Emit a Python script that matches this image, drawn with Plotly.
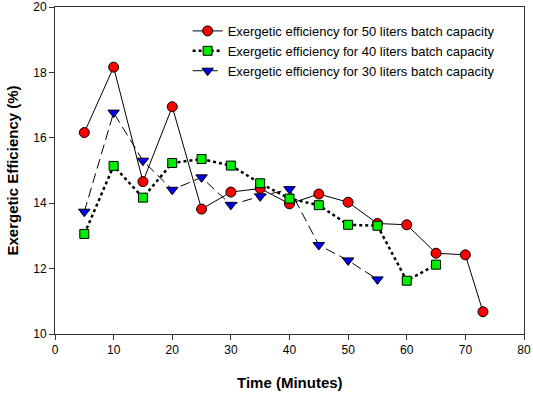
import plotly.graph_objects as go

time_50 = [5, 10, 15, 20, 25, 30, 35, 40, 45, 50, 55, 60, 65, 70, 73]
eff_50 = [16.16, 18.16, 14.66, 16.95, 13.82, 14.34, 14.45, 13.98, 14.28, 14.03, 13.38, 13.34, 12.47, 12.42, 10.68]

time_40 = [5, 10, 15, 20, 25, 30, 35, 40, 45, 50, 55, 60, 65]
eff_40 = [13.06, 15.14, 14.17, 15.23, 15.35, 15.15, 14.61, 14.14, 13.94, 13.34, 13.31, 11.63, 12.12]

time_30 = [5, 10, 15, 20, 25, 30, 35, 40, 45, 50, 55]
eff_30 = [13.74, 16.77, 15.30, 14.41, 14.79, 13.95, 14.21, 14.43, 12.72, 12.25, 11.67]

x_ticks = [0, 10, 20, 30, 40, 50, 60, 70, 80]
y_ticks = [10, 12, 14, 16, 18, 20]

names = [
    "Exergetic efficiency for 50 liters batch capacity",
    "Exergetic efficiency for 40 liters batch capacity",
    "Exergetic efficiency for 30 liters batch capacity",
]
x_title = "Time (Minutes)"
y_title = "Exergetic Efficiency (%)"

FONT = "Liberation Sans, Arial, sans-serif"

fig = go.Figure()
fig.add_trace(go.Scatter(
    x=time_50, y=eff_50, name=names[0], mode="lines+markers",
    line=dict(color="black", width=1),
    marker=dict(symbol="circle", size=10, color="#ff0000", line=dict(color="black", width=1)),
))
fig.add_trace(go.Scatter(
    x=time_40, y=eff_40, name=names[1], mode="lines+markers",
    line=dict(color="black", width=2.5, dash="dot"),
    marker=dict(symbol="square", size=9, color="#00ee00", line=dict(color="black", width=1)),
))
fig.add_trace(go.Scatter(
    x=time_30, y=eff_30, name=names[2], mode="lines+markers",
    line=dict(color="black", width=1, dash="10px,5px"),
    marker=dict(symbol="triangle-down", size=10, color="#0000ee", line=dict(color="black", width=1)),
))

axis_common = dict(
    showgrid=False, zeroline=False, showline=True, linecolor="#333333", linewidth=1,
    mirror=True, ticks="outside", ticklen=5, tickcolor="#333333", automargin=False,
    ticklabeloverflow="allow",
    tickfont=dict(family=FONT, size=12, color="black"),
)

fig.update_xaxes(range=[0, 80], tickvals=x_ticks, **axis_common)
fig.update_yaxes(range=[10, 20], tickvals=y_ticks, **axis_common)

fig.add_annotation(
    text="<b>" + x_title + "</b>", xref="paper", yref="paper",
    x=0.5, y=-(382 - 334) / 327, xanchor="center", yanchor="middle",
    showarrow=False, font=dict(family=FONT, size=15, color="black"),
)
fig.add_annotation(
    text="<b>" + y_title + "</b>", xref="paper", yref="paper",
    x=(12 - 55) / 469, y=0.5, xanchor="center", yanchor="middle", textangle=-90,
    showarrow=False, font=dict(family=FONT, size=15, color="black"),
)

fig.update_layout(
    width=533, height=393,
    margin=dict(l=55, r=9, t=7, b=59),
    paper_bgcolor="white", plot_bgcolor="white",
    showlegend=True,
    legend=dict(
        x=0.2828, y=0.9726, xanchor="left", yanchor="top",
        bgcolor="rgba(0,0,0,0)", borderwidth=0,
        font=dict(family=FONT, size=13, color="black"),
        tracegroupgap=0, itemwidth=30,
    ),
)

fig.write_html(
    "out.html",
    config={"displayModeBar": False},
    post_script="document.body.style.margin='0';document.body.style.overflow='hidden';",
)
